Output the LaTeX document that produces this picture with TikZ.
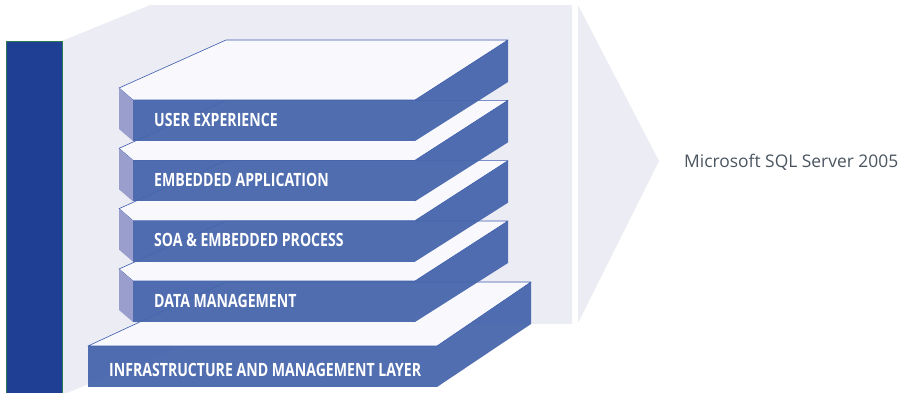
\documentclass[tikz,border=0pt]{standalone}
\usepackage{fontspec}
\setmainfont{Open Sans}
\newfontfamily\layerfont[FakeStretch=0.77]{Open Sans Bold}
\definecolor{barblue}{HTML}{1F3F94}
\definecolor{bargreen}{HTML}{2E7A50}
\definecolor{panel}{HTML}{ECECF4}
\definecolor{slabblue}{HTML}{4565AB}
\definecolor{slabtop}{HTML}{F9F9FD}
\definecolor{slabside}{HTML}{9A9ECC}
\definecolor{edgeblue}{HTML}{3A5AAE}
\definecolor{caption}{HTML}{4A5560}
\begin{document}
\begin{tikzpicture}[x=1pt, y=-1pt,
    face/.style={fill=slabblue, fill opacity=0.94},
    top/.style={fill=slabtop, draw=edgeblue, line width=0.6pt, line join=round},
    side/.style={fill=slabside},
    layer/.style={text=white, font=\layerfont\fontsize{18.3}{20}\selectfont, inner sep=0pt, anchor=west},
    product/.style={text=caption, font=\fontsize{17.4}{20}\selectfont, inner sep=0pt, anchor=base west}
]
    \useasboundingbox (0,0) rectangle (902,392);

    % Backdrop
    \fill[panel] (62,41) -- (150,5) -- (572,5) -- (572,324) -- (235,324) -- (62,395) -- cycle;
    \fill[panel] (578,5) -- (659,161) -- (578,323) -- cycle;
    \fill[barblue, draw=bargreen, line width=0.8pt] (6.5,41) rectangle (62,393);

    % Base layer
    \draw[top] (88,346) -- (226,282) -- (531,282) -- (437,346) -- cycle;
    \fill[face] (88,346) rectangle (437,387);
    \fill[face] (437,346) -- (531,282) -- (531,324) -- (437,387) -- cycle;
    \node[layer] (infra) at (109,369.5) {INFRASTRUCTURE AND MANAGEMENT LAYER};

    % Stacked layers, lowest first
    \foreach \i/\txt in {3/DATA MANAGEMENT, 2/SOA \& EMBEDDED PROCESS, 1/EMBEDDED APPLICATION, 0/USER EXPERIENCE} {
        \pgfmathsetmacro\t{100+60.33*\i}
        \draw[top] (119,\t-12) -- (226,\t-60) -- (508,\t-60) -- (415,\t) -- (133,\t) -- cycle;
        \fill[side] (119,\t-12) -- (133,\t) -- (133,\t+41) -- (119,\t+29) -- cycle;
        \fill[face] (133,\t) rectangle (415,\t+41);
        \fill[face] (415,\t) -- (508,\t-60) -- (508,\t-18) -- (415,\t+41) -- cycle;
        \node[layer] (layer\i) at (154,\t+19.5) {\txt};
    }

    \node[product] (sql) at (684,167) {Microsoft SQL Server 2005};
\end{tikzpicture}
\end{document}
